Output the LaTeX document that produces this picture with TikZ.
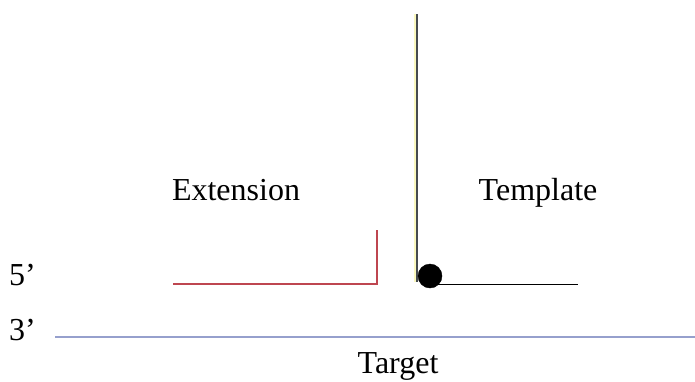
\documentclass[tikz,border=0pt]{standalone}
\usepackage{fontspec}
\setmainfont{Liberation Serif}
\usepackage{xcolor}
\definecolor{extred}{RGB}{190,70,80}
\definecolor{targetblue}{RGB}{150,160,205}
\definecolor{poleyellow}{RGB}{250,248,190}
\definecolor{polegray}{RGB}{70,75,80}

\begin{document}
\begin{tikzpicture}[x=1pt,y=-1pt]
    \useasboundingbox (0,0) rectangle (695,381);
    \tikzset{lbl/.style={inner sep=0pt,anchor=base,font=\fontsize{32}{36}\selectfont}}
    % labels
    \node[lbl] (ext) at (236,200) {Extension};
    \node[lbl] (tpl) at (538,200) {Template};
    \node[lbl] (tgt) at (398,373) {Target};
    \node[lbl,anchor=base west] (five) at (9,285) {5'};
    \node[lbl,anchor=base west] (three) at (9,340) {3'};
    % strands
    \coordinate (top) at (417,14);
    \coordinate (knee) at (417,282);
    \draw[poleyellow, line width=2.5pt] ([xshift=-1.5pt]top) -- ([xshift=-1.5pt]knee);
    \draw[polegray, line width=1.2pt] (top) -- (knee);
    \filldraw[black] (430,276) circle (12);
    \draw[black, line width=1pt] (430,284) -- (578,284);
    \draw[extred, line width=1.4pt] (173,284) -- (377,284) -- (377,230);
    \draw[targetblue, line width=1.6pt] (55,337) -- (695,337);
\end{tikzpicture}
\end{document}
